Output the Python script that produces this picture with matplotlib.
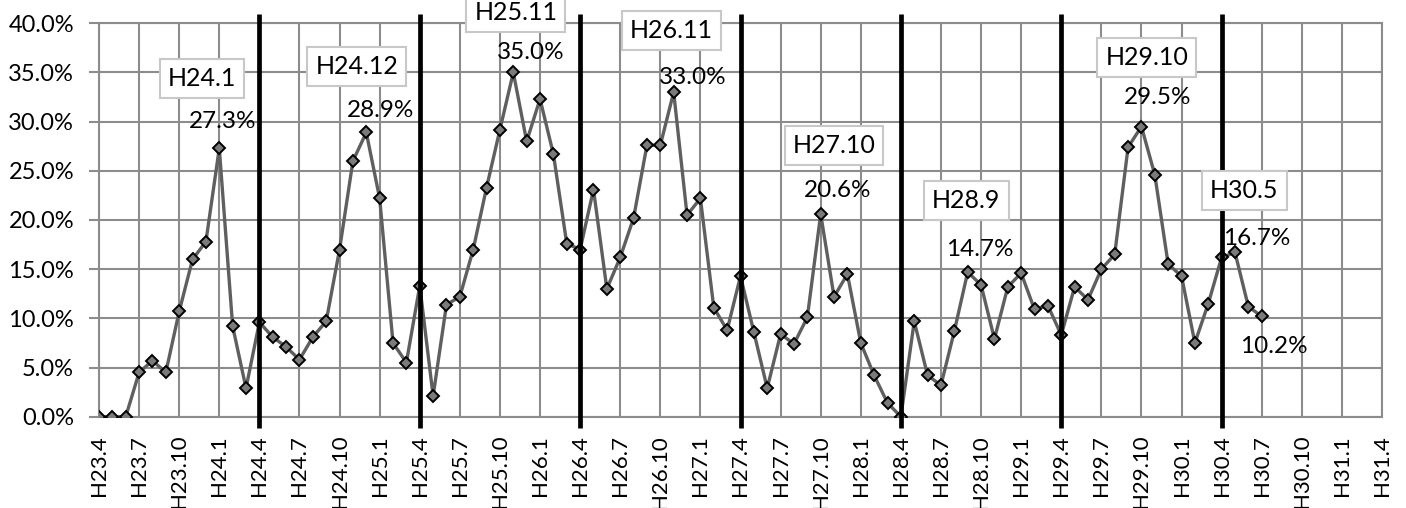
import matplotlib
matplotlib.use("Agg")
import matplotlib.pyplot as plt
from matplotlib.ticker import FuncFormatter, MultipleLocator

# ---------------- data ----------------
tick_labels = ["H23.4", "H23.7", "H23.10", "H24.1", "H24.4", "H24.7", "H24.10", "H25.1",
               "H25.4", "H25.7", "H25.10", "H26.1", "H26.4", "H26.7", "H26.10", "H27.1",
               "H27.4", "H27.7", "H27.10", "H28.1", "H28.4", "H28.7", "H28.10", "H29.1",
               "H29.4", "H29.7", "H29.10", "H30.1", "H30.4", "H30.7", "H30.10", "H31.1",
               "H31.4"]

values = [0.0, 0.0, 0.0, 4.5, 5.7, 4.5, 10.7, 16.0, 17.8, 27.3, 9.2, 2.9,
          9.6, 8.1, 7.1, 5.8, 8.1, 9.7, 17.0, 26.0, 28.9, 22.2, 7.5, 5.5,
          13.3, 2.1, 11.4, 12.2, 17.0, 23.3, 29.2, 35.0, 28.0, 32.3, 26.7, 17.6,
          17.0, 23.1, 13.0, 16.2, 20.2, 27.6, 27.6, 33.0, 20.5, 22.2, 11.1, 8.8,
          14.3, 8.6, 2.9, 8.4, 7.4, 10.1, 20.6, 12.2, 14.5, 7.5, 4.2, 1.4,
          0.0, 9.7, 4.2, 3.2, 8.7, 14.7, 13.4, 7.9, 13.2, 14.6, 10.9, 11.3,
          8.3, 13.2, 11.9, 15.0, 16.5, 27.4, 29.5, 24.6, 15.5, 14.3, 7.5, 11.5,
          16.2, 16.7, 11.2, 10.2]

# annotated points: index into values and month label
peak_idx = [9, 20, 31, 43, 54, 65, 78, 85]
peak_months = ["H24.1", "H24.12", "H25.11", "H26.11", "H27.10", "H28.9", "H29.10", "H30.5"]
last_idx = 87

# ---------------- layout / style ----------------
box_off = [(-1.3, 7.1), (-0.7, 6.7), (0.2, 6.1), (-0.2, 6.3), (1.0, 7.0), (-0.1, 7.3), (0.4, 7.0), (0.7, 6.3)]
val_off = [(0.28, 2.7), (1.1, 2.2), (1.3, 2.0), (1.4, 1.5), (1.3, 2.45), (0.9, 2.3), (1.2, 3.0), (1.6, 1.4)]
last_off = (0.9, -3.1)

FONT = ["Lato", "DejaVu Sans"]
plt.rcParams["font.family"] = FONT

W, H = 1406, 508
fig = plt.figure(figsize=(W / 100, H / 100), dpi=100)
ax = fig.add_axes([99 / W, 1 - 416.7 / H, (1382 - 99) / W, (416.7 - 23.3) / H])

step = 3
n_months = (len(tick_labels) - 1) * step
x = list(range(len(values)))

grid_c = "#8c8c8c"
ax.set_xlim(0, n_months)
ax.set_ylim(0, 40)
ax.yaxis.set_major_locator(MultipleLocator(5))
ax.yaxis.set_major_formatter(FuncFormatter(lambda v, p: f"{v:.1f}%"))
ax.set_xticks(range(0, n_months + 1, step))
ax.set_xticklabels(tick_labels, rotation=90, fontsize=16)
ax.tick_params(axis="y", labelsize=17, length=7, width=1.5, color=grid_c, pad=11)
ax.tick_params(axis="x", length=0, pad=13)
for lab in ax.get_xticklabels():
    lab.set_verticalalignment("top")
ax.grid(True, color=grid_c, linewidth=1.5)
ax.set_axisbelow(True)
for s in ax.spines.values():
    s.set_color(grid_c)
    s.set_linewidth(1.5)

ax.plot(x, values, color="#5f5f5f", linewidth=2.4, marker="D", markersize=6.5,
        markerfacecolor="#7a7a7a", markeredgecolor="black", markeredgewidth=1.4, zorder=3)

# fiscal-year dividers at each ".4" tick (except the first)
for i, lab in enumerate(tick_labels):
    if lab.endswith(".4") and i > 0 and i * step < len(values):
        ax.plot([i * step, i * step], [-1.1, 40.9], color="black", linewidth=3.4,
                clip_on=False, zorder=4, solid_capstyle="butt")

for k, (i, m) in enumerate(zip(peak_idx, peak_months)):
    bx, by = box_off[k]
    ax.text(i + bx, values[i] + by, m, fontsize=18, ha="center", va="center", zorder=6,
            clip_on=False,
            bbox=dict(boxstyle="square,pad=0.32", facecolor="white", edgecolor="#c8c8c8", linewidth=1.5))
    vx, vy = val_off[k]
    ax.text(i + vx, values[i] + vy, f"{values[i]:.1f}%", fontsize=17.5, ha="center", va="center", zorder=5)

ax.text(last_idx + last_off[0], values[last_idx] + last_off[1], f"{values[last_idx]:.1f}%",
        fontsize=17.5, ha="center", va="center", zorder=5)

fig.savefig("out.png", dpi=100)
